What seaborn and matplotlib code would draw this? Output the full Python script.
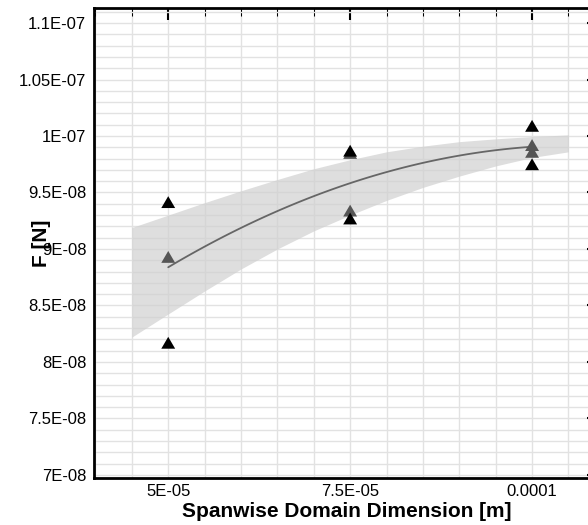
import numpy as np
import pandas as pd
import matplotlib
matplotlib.use('Agg')
import matplotlib.pyplot as plt
import matplotlib.ticker as mticker
import seaborn as sns

# data
gray_x = [5e-05, 7.5e-05, 7.5e-05, 1e-04, 1e-04]
gray_y = [8.93e-08, 9.85e-08, 9.34e-08, 9.92e-08, 9.86e-08]
black_x = [5e-05, 5e-05, 7.5e-05, 7.5e-05, 1e-04, 1e-04]
black_y = [9.415e-08, 8.17e-08, 9.87e-08, 9.27e-08, 10.09e-08, 9.75e-08]

# shaded band (upper / lower edge)
band_x = [4.5e-05, 5e-05, 5.5e-05, 6e-05, 6.5e-05, 7e-05, 7.5e-05,
          8e-05, 8.5e-05, 9e-05, 9.5e-05, 1e-04, 1.05e-04]
band_hi = [9.19e-08, 9.30e-08, 9.41e-08, 9.515e-08, 9.615e-08, 9.71e-08, 9.79e-08,
           9.86e-08, 9.91e-08, 9.95e-08, 9.975e-08, 9.995e-08, 10.01e-08]
band_lo = [8.22e-08, 8.425e-08, 8.628e-08, 8.823e-08, 9.000e-08, 9.16e-08, 9.30e-08,
           9.43e-08, 9.545e-08, 9.645e-08, 9.735e-08, 9.81e-08, 9.86e-08]

x_ticks = [5e-05, 7.5e-05, 1e-04]
x_labels = ['5E-05', '7.5E-05', '0.0001']
y_ticks = [7e-08, 7.5e-08, 8e-08, 8.5e-08, 9e-08, 9.5e-08, 1e-07, 1.05e-07, 1.1e-07]
y_labels = ['7E-08', '7.5E-08', '8E-08', '8.5E-08', '9E-08', '9.5E-08',
            '1E-07', '1.05E-07', '1.1E-07']

df = pd.DataFrame({
    'x': gray_x + black_x,
    'y': gray_y + black_y,
    'grp': ['gray'] * len(gray_x) + ['black'] * len(black_x),
})

sns.set_style('white')
plt.rcParams['font.family'] = ['Liberation Sans', 'DejaVu Sans']
plt.rcParams['text.color'] = 'black'
plt.rcParams['axes.labelcolor'] = 'black'

fig = plt.figure(figsize=(5.88, 5.25), dpi=100)
ax = fig.add_axes([94 / 588, 47 / 525, 505 / 588, 470 / 525])

# band + fitted curve
ax.fill_between(band_x, band_lo, band_hi, color='#d0d0d0', alpha=0.7, lw=0, zorder=1)
sns.regplot(data=df, x='x', y='y', order=2, ci=None, scatter=False, ax=ax,
            line_kws={'color': '#666666', 'lw': 1.3, 'zorder': 2})

tri = [(0, 1), (-1.17, -1), (1.17, -1)]
sns.scatterplot(data=df, x='x', y='y', hue='grp', palette={'gray': '#555555', 'black': '#000000'},
                marker=tri, s=100, linewidth=0, legend=False, ax=ax, zorder=3)

ax.set_xlim(3.98e-05, 1.092e-04)
ax.set_ylim(6.973e-08, 1.1133e-07)

ax.xaxis.set_major_locator(mticker.FixedLocator(x_ticks))
ax.xaxis.set_major_formatter(mticker.FixedFormatter(x_labels))
ax.yaxis.set_major_locator(mticker.FixedLocator(y_ticks))
ax.yaxis.set_major_formatter(mticker.FixedFormatter(y_labels))
ax.xaxis.set_minor_locator(mticker.MultipleLocator(5e-06))
ax.yaxis.set_minor_locator(mticker.MultipleLocator(1e-09))

ax.grid(which='both', color='#e2e2e2', lw=1)
ax.set_axisbelow(True)

ax.tick_params(which='both', direction='in', top=True, right=True, colors='black')
ax.tick_params(which='major', length=8.6, width=1.5)
ax.tick_params(which='minor', length=5.5, width=0.75)
ax.tick_params(axis='x', which='major', labelsize=12, pad=4, labelcolor='black')
ax.tick_params(axis='y', which='major', labelsize=12, pad=5.5, labelcolor='black')

for sp in ax.spines.values():
    sp.set_visible(True)
    sp.set_linewidth(2)
    sp.set_color('black')

ax.set_xlabel('Spanwise Domain Dimension [m]', fontsize=15, fontweight='bold', labelpad=2.5)
ax.set_ylabel('F [N]', fontsize=15, fontweight='bold')
ax.yaxis.set_label_coords(-0.085, 0.5)

fig.savefig('out.png', dpi=100)
